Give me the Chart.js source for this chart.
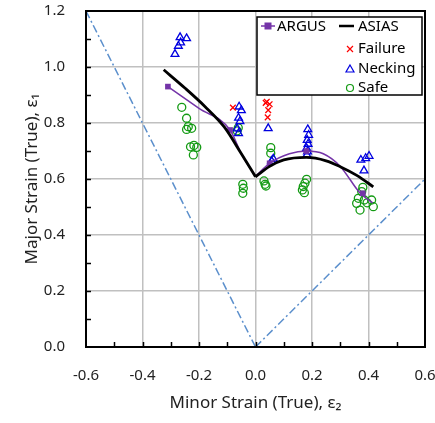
<!DOCTYPE html>
<html lang="en">
<head>
<meta charset="UTF-8">
<title>Forming Limit</title>
<script src="https://cdn.jsdelivr.net/npm/chart.js"></script>
<style>
    body { margin: 0; background: #fff; }
    canvas { display: block; }
</style>
</head>
<body>
<canvas id="flChart" width="435" height="423"></canvas>
<script>
// tick labels
const xTicks = [-0.6, -0.4, -0.2, 0.0, 0.2, 0.4, 0.6];
const yTicks = [0.0, 0.2, 0.4, 0.6, 0.8, 1.0, 1.2];

// measured points (minor strain, major strain)
const failureMinor = [-0.08, 0.036, 0.04, 0.05, 0.045, 0.043];
const failureMajor = [0.855, 0.872, 0.876, 0.867, 0.846, 0.82];

const neckingMinor = [-0.285, -0.273, -0.267, -0.265, -0.244,
    -0.058, -0.05, -0.06, -0.055, -0.065, -0.06,
    0.045, 0.057, 0.063,
    0.185, 0.188, 0.183, 0.186, 0.181, 0.184, 0.182,
    0.373, 0.39, 0.402, 0.384];
const neckingMajor = [1.046, 1.075, 1.106, 1.087, 1.102,
    0.858, 0.845, 0.818, 0.806, 0.78, 0.763,
    0.781, 0.664, 0.672,
    0.777, 0.757, 0.739, 0.725, 0.71, 0.698, 0.686,
    0.668, 0.674, 0.682, 0.63];

const safeMinor = [-0.261, -0.244, -0.238, -0.226, -0.244, -0.23, -0.208, -0.22, -0.218,
    -0.061, -0.065, -0.045, -0.043, -0.045, 0.030, 0.034, 0.037, 0.054, 0.054,
    0.181, 0.175, 0.169, 0.166, 0.173,
    0.38, 0.364, 0.385, 0.411, 0.358, 0.37, 0.417, 0.376, 0.395];
const safeMajor = [0.856, 0.817, 0.787, 0.781, 0.777, 0.715, 0.713, 0.686, 0.72,
    0.783, 0.772, 0.581, 0.567, 0.549, 0.593, 0.581, 0.575, 0.712, 0.692,
    0.599, 0.585, 0.573, 0.561, 0.551,
    0.570, 0.531, 0.525, 0.525, 0.513, 0.489, 0.501, 0.555, 0.515];

// ARGUS markers and curve
const argusMinor = [-0.31, -0.09, 0.05, 0.18, 0.38];
const argusMajor = [0.93, 0.775, 0.656, 0.70, 0.549];
const argusLeftMinor = [-0.31, -0.2, -0.09, -0.05, 0.0];
const argusLeftMajor = [0.93, 0.852, 0.775, 0.69, 0.61];
const argusRightMinor = [0.0, 0.05, 0.12, 0.18, 0.24, 0.3, 0.37, 0.415];
const argusRightMajor = [0.61, 0.656, 0.69, 0.70, 0.69, 0.645, 0.55, 0.515];

// ASIAS curve
const asiasLeftMinor = [-0.325, -0.25, -0.18, -0.11, -0.05, 0.0];
const asiasLeftMajor = [0.99, 0.925, 0.86, 0.785, 0.69, 0.608];
const asiasRightMinor = [0.0, 0.05, 0.1, 0.18, 0.25, 0.3, 0.36, 0.417];
const asiasRightMajor = [0.608, 0.645, 0.668, 0.677, 0.665, 0.644, 0.612, 0.572];

// strain path guides
const uniMinor = [-0.6, 0.0];
const uniMajor = [1.2, 0.0];
const biMinor = [0.0, 0.6];
const biMajor = [0.0, 0.6];

function pts(xs, ys) {
    return xs.map((x, i) => ({ x: x, y: ys[i] }));
}

const purple = '#7434a8';
const guideBlue = '#5b8fcc';
const FONT = "'Noto Sans', 'DejaVu Sans', sans-serif";

// frame, inward ticks and legend box
const decorPlugin = {
    id: 'decor',
    afterDraw(chart) {
        const ctx = chart.ctx;
        const a = chart.chartArea;
        const xs = chart.scales.x, ys = chart.scales.y;
        ctx.save();
        ctx.strokeStyle = '#000';
        ctx.lineWidth = 1.5;
        for (let v = -0.5; v < 0.6; v += 0.1) {
            const px = Math.round(xs.getPixelForValue(v)) + 0.5;
            ctx.beginPath(); ctx.moveTo(px, a.bottom); ctx.lineTo(px, a.bottom - 5); ctx.stroke();
        }
        for (let v = 0.1; v < 1.2; v += 0.1) {
            const py = Math.round(ys.getPixelForValue(v)) + 0.5;
            ctx.beginPath(); ctx.moveTo(a.left, py); ctx.lineTo(a.left + 5, py); ctx.stroke();
        }
        ctx.lineWidth = 2;
        ctx.strokeRect(a.left, a.top, a.right - a.left, a.bottom - a.top);

        // legend
        const bx = 257, by = 17, bw = 165, bh = 78;
        ctx.fillStyle = '#fff';
        ctx.fillRect(bx, by, bw, bh);
        ctx.lineWidth = 1.5;
        ctx.strokeStyle = '#000';
        ctx.strokeRect(bx, by, bw, bh);
        ctx.font = '15px ' + FONT;
        ctx.fillStyle = '#000';
        ctx.textBaseline = 'middle';
        ctx.textAlign = 'left';

        // ARGUS
        ctx.strokeStyle = purple; ctx.lineWidth = 1.5;
        ctx.beginPath(); ctx.moveTo(261, 26); ctx.lineTo(275, 26); ctx.stroke();
        ctx.fillStyle = purple; ctx.fillRect(264.5, 22.5, 7, 7);
        ctx.fillStyle = '#000'; ctx.fillText('ARGUS', 277, 27);
        // ASIAS
        ctx.strokeStyle = '#000'; ctx.lineWidth = 2.5;
        ctx.beginPath(); ctx.moveTo(339, 26); ctx.lineTo(354, 26); ctx.stroke();
        ctx.fillText('ASIAS', 358, 27);
        // Failure
        ctx.strokeStyle = '#ff0000'; ctx.lineWidth = 1.2;
        ctx.beginPath();
        ctx.moveTo(347, 46); ctx.lineTo(353, 52); ctx.moveTo(353, 46); ctx.lineTo(347, 52);
        ctx.stroke();
        ctx.fillText('Failure', 358, 49);
        // Necking
        ctx.strokeStyle = '#0000e0'; ctx.lineWidth = 1.2;
        ctx.beginPath(); ctx.moveTo(350, 65); ctx.lineTo(354, 72); ctx.lineTo(346, 72); ctx.closePath(); ctx.stroke();
        ctx.fillText('Necking', 358, 69);
        // Safe
        ctx.strokeStyle = '#139a13'; ctx.lineWidth = 1.2;
        ctx.beginPath(); ctx.arc(350, 88, 3.5, 0, Math.PI * 2); ctx.stroke();
        ctx.fillText('Safe', 358, 88);
        ctx.restore();
    }
};

const noPad = s => { s.paddingLeft = 0; s.paddingRight = 0; s.paddingTop = 0; s.paddingBottom = 0; };

const ctx = document.getElementById('flChart').getContext('2d');
new Chart(ctx, {
    type: 'scatter',
    data: {
        datasets: [
            { data: pts(asiasLeftMinor, asiasLeftMajor), showLine: true, borderColor: '#000', borderWidth: 2.8, pointRadius: 0, cubicInterpolationMode: 'monotone', order: 1 },
            { data: pts(asiasRightMinor, asiasRightMajor), showLine: true, borderColor: '#000', borderWidth: 2.8, pointRadius: 0, cubicInterpolationMode: 'monotone', order: 1 },
            { data: pts(argusLeftMinor, argusLeftMajor), showLine: true, borderColor: purple, borderWidth: 1.5, pointRadius: 0, cubicInterpolationMode: 'monotone', order: 2 },
            { data: pts(argusRightMinor, argusRightMajor), showLine: true, borderColor: purple, borderWidth: 1.5, pointRadius: 0, cubicInterpolationMode: 'monotone', order: 2 },
            { data: pts(argusMinor, argusMajor), pointStyle: 'rect', pointRadius: 4, backgroundColor: purple, borderColor: purple, borderWidth: 0, order: 2 },
            { data: pts(failureMinor, failureMajor), pointStyle: 'crossRot', pointRadius: 4, borderColor: '#ff0000', borderWidth: 1.3, order: 3 },
            { data: pts(neckingMinor, neckingMajor), pointStyle: 'triangle', pointRadius: 4.5, borderColor: '#0000e0', backgroundColor: 'rgba(0,0,0,0)', borderWidth: 1.3, order: 4 },
            { data: pts(safeMinor, safeMajor), pointStyle: 'circle', pointRadius: 4, borderColor: '#139a13', backgroundColor: 'rgba(0,0,0,0)', borderWidth: 1.3, order: 5 },
            { data: pts(uniMinor, uniMajor), showLine: true, borderColor: guideBlue, borderWidth: 1.5, borderDash: [8, 3, 2, 3], pointRadius: 0, order: 6 },
            { data: pts(biMinor, biMajor), showLine: true, borderColor: guideBlue, borderWidth: 1.5, borderDash: [8, 3, 2, 3], pointRadius: 0, order: 6 }
        ]
    },
    options: {
        responsive: false,
        animation: false,
        layout: { padding: { top: 11, right: 10, left: 0, bottom: 0 } },
        plugins: { legend: { display: false }, tooltip: { enabled: false } },
        scales: {
            x: {
                type: 'linear', min: -0.6, max: 0.6,
                afterFit: s => { s.height = 76; noPad(s); },
                afterBuildTicks: s => { s.ticks = xTicks.map(v => ({ value: v })); },
                ticks: { padding: 20, color: '#222', font: { size: 15, family: FONT }, callback: v => v.toFixed(1) },
                grid: { color: '#c0c0c0', lineWidth: 1.5, drawTicks: false },
                border: { display: false },
                title: { display: true, text: 'Minor Strain (True), ε₂', color: '#222', font: { size: 17, family: FONT }, padding: { top: 0, bottom: 10 } }
            },
            y: {
                type: 'linear', min: 0, max: 1.2,
                afterFit: s => { s.width = 86; noPad(s); },
                afterBuildTicks: s => { s.ticks = yTicks.map(v => ({ value: v })); },
                ticks: { padding: 21, color: '#222', font: { size: 15, family: FONT }, callback: v => v.toFixed(1) },
                grid: { color: '#c0c0c0', lineWidth: 1.5, drawTicks: false },
                border: { display: false },
                title: { display: true, text: 'Major Strain (True), ε₁', color: '#222', font: { size: 17, family: FONT }, padding: { top: 22, bottom: 0 } }
            }
        }
    },
    plugins: [decorPlugin]
});
</script>
</body>
</html>
